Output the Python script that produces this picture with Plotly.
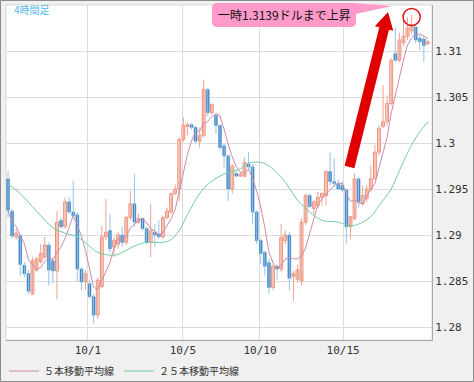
import plotly.graph_objects as go
import pandas as pd

# ---------------- data ----------------
opens = [1.2961, 1.2926, 1.2898, 1.2899, 1.2867, 1.2858, 1.2836, 1.2862, 1.2871, 1.2876,
         1.2889, 1.2872, 1.2861, 1.2916, 1.2909, 1.2936, 1.2925, 1.2922, 1.2863, 1.2849,
         1.2847, 1.2833, 1.2813, 1.2844, 1.2898, 1.2905, 1.2887, 1.2890, 1.2900, 1.2892,
         1.2919, 1.2934, 1.2914, 1.2918, 1.2907, 1.2892, 1.2903, 1.2901, 1.2898, 1.2919,
         1.2925, 1.2945, 1.2950, 1.3004, 1.3018, 1.3020, 1.3017, 1.3002, 1.3008, 1.3058,
         1.3033, 1.3030, 1.3019, 1.2997, 1.2986, 1.2950, 1.2967, 1.2964, 1.2964, 1.2977,
         1.2974, 1.2925, 1.2894, 1.2881, 1.2870, 1.2843, 1.2866, 1.2863, 1.2894, 1.2900,
         1.2855, 1.2852, 1.2850, 1.2914, 1.2943, 1.2929, 1.2932, 1.2941, 1.2943, 1.2969,
         1.2958, 1.2956, 1.2954, 1.2949, 1.2909, 1.2918, 1.2961, 1.2934, 1.2940, 1.2950,
         1.2961, 1.2990, 1.3018, 1.3023, 1.3043, 1.3097, 1.3090, 1.3109, 1.3116, 1.3122,
         1.3126, 1.3114, 1.3113, 1.3108]
highs = [1.2970, 1.2928, 1.2906, 1.2901, 1.2871, 1.2862, 1.2876, 1.2876, 1.2890, 1.2898,
         1.2892, 1.2876, 1.2926, 1.2919, 1.2941, 1.2941, 1.2959, 1.2925, 1.2865, 1.2862,
         1.2851, 1.2836, 1.2854, 1.2910, 1.2939, 1.2923, 1.2898, 1.2903, 1.2909, 1.2921,
         1.2948, 1.2966, 1.2923, 1.2919, 1.2909, 1.2934, 1.2912, 1.2916, 1.2921, 1.2930,
         1.2946, 1.2955, 1.3006, 1.3028, 1.3022, 1.3022, 1.3019, 1.3017, 1.3069, 1.3060,
         1.3043, 1.3032, 1.3020, 1.2999, 1.2988, 1.2977, 1.2970, 1.2968, 1.2984, 1.2990,
         1.2977, 1.2927, 1.2896, 1.2883, 1.2874, 1.2868, 1.2868, 1.2912, 1.2905, 1.2903,
         1.2861, 1.2868, 1.2918, 1.2945, 1.2945, 1.2938, 1.2947, 1.2947, 1.2970, 1.2990,
         1.2983, 1.2960, 1.2958, 1.2950, 1.2921, 1.2967, 1.2963, 1.2954, 1.2954, 1.2976,
         1.2998, 1.3019, 1.3063, 1.3052, 1.3092, 1.3125, 1.3120, 1.3136, 1.3137, 1.3139,
         1.3129, 1.3117, 1.3116, 1.3112]
lows = [1.2919, 1.2896, 1.2895, 1.2856, 1.2854, 1.2836, 1.2835, 1.2860, 1.2869, 1.2874,
        1.2845, 1.2847, 1.2830, 1.2907, 1.2907, 1.2923, 1.2919, 1.2849, 1.2840, 1.2840,
        1.2831, 1.2804, 1.2809, 1.2842, 1.2894, 1.2880, 1.2876, 1.2885, 1.2887, 1.2889,
        1.2916, 1.2909, 1.2912, 1.2905, 1.2890, 1.2876, 1.2887, 1.2896, 1.2896, 1.2917,
        1.2923, 1.2943, 1.2937, 1.3001, 1.3008, 1.3015, 1.3000, 1.2995, 1.3006, 1.3029,
        1.3031, 1.3010, 1.2992, 1.2973, 1.2937, 1.2945, 1.2963, 1.2963, 1.2963, 1.2970,
        1.2912, 1.2890, 1.2868, 1.2856, 1.2836, 1.2840, 1.2851, 1.2860, 1.2890, 1.2840,
        1.2828, 1.2848, 1.2845, 1.2911, 1.2929, 1.2923, 1.2929, 1.2932, 1.2932, 1.2954,
        1.2952, 1.2949, 1.2947, 1.2891, 1.2896, 1.2916, 1.2930, 1.2932, 1.2936, 1.2947,
        1.2960, 1.2987, 1.3016, 1.3019, 1.3041, 1.3088, 1.3088, 1.3105, 1.3112, 1.3118,
        1.3108, 1.3101, 1.3088, 1.3106]
closes = [1.2927, 1.2899, 1.2902, 1.2868, 1.2858, 1.2839, 1.2872, 1.2874, 1.2880, 1.2889,
          1.2862, 1.2861, 1.2914, 1.2909, 1.2936, 1.2925, 1.2921, 1.2863, 1.2849, 1.2858,
          1.2833, 1.2813, 1.2851, 1.2898, 1.2903, 1.2885, 1.2894, 1.2900, 1.2892, 1.2919,
          1.2934, 1.2914, 1.2918, 1.2907, 1.2892, 1.2905, 1.2900, 1.2898, 1.2919, 1.2926,
          1.2945, 1.2950, 1.3004, 1.3019, 1.3020, 1.3017, 1.3002, 1.3008, 1.3058, 1.3033,
          1.3042, 1.3019, 1.2995, 1.2986, 1.2950, 1.2975, 1.2964, 1.2966, 1.2979, 1.2974,
          1.2925, 1.2894, 1.2880, 1.2866, 1.2843, 1.2866, 1.2863, 1.2897, 1.2900, 1.2853,
          1.2858, 1.2862, 1.2914, 1.2943, 1.2931, 1.2936, 1.2941, 1.2945, 1.2969, 1.2958,
          1.2956, 1.2950, 1.2949, 1.2909, 1.2920, 1.2961, 1.2936, 1.2943, 1.2950, 1.2961,
          1.2990, 1.3016, 1.3023, 1.3043, 1.3090, 1.3090, 1.3112, 1.3116, 1.3125, 1.3128,
          1.3112, 1.3110, 1.3106, 1.3110]
idx = list(range(len(closes)))

# 25-period moving average at these candle indices
ma25_idx = [0, 3, 7, 11, 14, 17, 20, 22, 26, 28, 31, 34, 38, 40, 42, 44, 47, 49, 52, 54,
            57, 59, 62, 64, 67, 69, 71, 74, 77, 81, 84, 86, 89, 91, 94, 96, 99, 101, 103]
ma25_val = [1.2955, 1.2945, 1.2926, 1.2908, 1.2902, 1.2898, 1.2888, 1.2881, 1.2878, 1.2881,
            1.2888, 1.2892, 1.2892, 1.2895, 1.2905, 1.2922, 1.2945, 1.2955, 1.2964, 1.2968,
            1.2972, 1.2978, 1.2979, 1.2975, 1.2963, 1.2951, 1.2938, 1.2925, 1.2916, 1.2914,
            1.2910, 1.2912, 1.2920, 1.2932, 1.2950, 1.2970, 1.2998, 1.3012, 1.3023]

x_tick_pos = [19.6, 42.9, 61.8, 82.2]
x_tick_text = ["10/1", "10/5", "10/10", "10/15"]
y_tick_vals = [1.28, 1.285, 1.29, 1.295, 1.30, 1.305, 1.31]
y_tick_text = ["1.28", "1.285", "1.29", "1.295", "1.3", "1.305", "1.31"]

ma5_name = "５本移動平均線"
ma25_name = "２５本移動平均線"
note_text = "一時1.3139ドルまで上昇"
frame_label = "4時間足"

# ---------------- derived ----------------
ma5 = pd.Series(closes).rolling(5, min_periods=1).mean().tolist()
up = [c >= o for o, c in zip(opens, closes)]

UP_LINE = "#ec8f7a"
UP_FILL = "#fde6de"
UP_WICK = "#f0a392"
DN_FILL = "#3b82c4"
DN_WICK = "#96c2e8"


def wicks(mask):
    xs, ys = [], []
    for i in idx:
        if mask[i]:
            xs += [i, i, None]
            ys += [lows[i], highs[i], None]
    return xs, ys


fig = go.Figure()

for mask, col in ((up, UP_WICK), ([not u for u in up], DN_WICK)):
    wx, wy = wicks(mask)
    fig.add_trace(go.Scatter(x=wx, y=wy, mode="lines", line=dict(color=col, width=1),
                             showlegend=False, hoverinfo="skip"))

ux = [i for i in idx if up[i]]
fig.add_trace(go.Bar(x=ux, base=[opens[i] for i in ux],
                     y=[max(closes[i] - opens[i], 0.00003) for i in ux],
                     width=0.7, marker=dict(color=UP_FILL, line=dict(color=UP_LINE, width=1)),
                     showlegend=False))
dx = [i for i in idx if not up[i]]
fig.add_trace(go.Bar(x=dx, base=[closes[i] for i in dx],
                     y=[max(opens[i] - closes[i], 0.00003) for i in dx],
                     width=0.7, marker=dict(color=DN_FILL, line=dict(color=DN_FILL, width=0.5)),
                     showlegend=False))

fig.add_trace(go.Scatter(x=idx, y=ma5, mode="lines", name=ma5_name,
                         line=dict(color="#cf8aa8", width=1)))
fig.add_trace(go.Scatter(x=ma25_idx, y=ma25_val, mode="lines", name=ma25_name,
                         line=dict(color="#6fcf9f", width=1, shape="spline")))

# ---------------- layout ----------------
W, H = 474, 382
ML, MR, MT, MB = 6, 42, 5, 42
PW, PH = W - ML - MR, H - MT - MB


def px(x, y):
    return (x - ML) / PW, (H - MB - y) / PH


def path(points, close=True):
    s = ""
    for k, p in enumerate(points):
        if p[0] == "Q":
            (ax, ay), (bx, by) = px(*p[1]), px(*p[2])
            s += f" Q {ax:.5f},{ay:.5f} {bx:.5f},{by:.5f}"
        else:
            x, y = px(*p)
            s += (" M " if k == 0 else " L ") + f"{x:.5f},{y:.5f}"
    return s + (" Z" if close else "")


shapes = []
fx0, fy1 = px(0.5, 0.5)
fx1, fy0 = px(473.5, 381.5)
shapes.append(dict(type="rect", xref="paper", yref="paper", x0=fx0, x1=fx1, y0=fy0, y1=fy1,
                   line=dict(color="#8c8c8c", width=1), layer="below"))
shapes.append(dict(type="rect", xref="paper", yref="paper", x0=0, x1=1, y0=0, y1=1,
                   line=dict(color="#d9d9d9", width=1), layer="below"))

callout = [(217, 3), (354, 3), (392, 6), (356, 14), (356, 22), ("Q", (356, 27), (351, 27)),
           (217, 27), ("Q", (212, 27), (212, 22)), (212, 8), ("Q", (212, 3), (217, 3))]
shapes.append(dict(type="path", xref="paper", yref="paper", path=path(callout),
                   fillcolor="#ff9acb", line=dict(width=0)))

arrow = [(344.6, 165.8), (379.3, 27.3), (374.9, 26.2), (388.0, 12.0), (393.3, 30.8),
         (389.0, 29.7), (354.4, 168.2)]
shapes.append(dict(type="path", xref="paper", yref="paper", path=path(arrow),
                   fillcolor="#e00000", line=dict(width=0)))

imax = max(idx, key=lambda i: highs[i])
cy = highs[imax] - 0.0002
shapes.append(dict(type="circle", xref="x", yref="y", x0=imax - 2.1, x1=imax + 2.1,
                   y0=cy - 0.00093, y1=cy + 0.00093, line=dict(color="#dd1111", width=1.5)))

ax_font = dict(family="DejaVu Sans Mono", size=11, color="#333333")

fig.update_layout(
    width=W, height=H,
    margin=dict(l=ML, r=MR, t=MT, b=MB, autoexpand=False),
    paper_bgcolor="#f0f0f0", plot_bgcolor="#ffffff",
    barmode="overlay", bargap=0,
    shapes=shapes,
    showlegend=True,
    legend=dict(orientation="h", x=px(4, 0)[0], xanchor="left", y=px(0, 371)[1],
                yanchor="middle", bgcolor="rgba(0,0,0,0)",
                font=dict(family="Noto Sans CJK JP", size=10, color="#333333")),
    xaxis=dict(range=[-0.5, 104.0], tickvals=x_tick_pos, ticktext=x_tick_text,
               showgrid=True, gridcolor="#dcdcdc", gridwidth=1, zeroline=False,
               showline=True, linecolor="#a8a8a8", linewidth=1, ticks="",
               tickfont=ax_font, fixedrange=True, automargin=False),
    yaxis=dict(range=[1.27859, 1.3150], side="right", tickvals=y_tick_vals,
               ticktext=y_tick_text, showgrid=True, gridcolor="#dcdcdc", gridwidth=1,
               zeroline=False, showline=True, linecolor="#a8a8a8", linewidth=1, ticks="",
               tickfont=ax_font, fixedrange=True, automargin=False),
    annotations=[
        dict(xref="paper", yref="paper", x=px(12, 0)[0], y=px(0, 9)[1], text=frame_label,
             showarrow=False, xanchor="left", yanchor="middle",
             font=dict(family="Noto Sans CJK JP", size=10, color="#55b8ee")),
        dict(xref="paper", yref="paper", x=px(284, 0)[0], y=px(0, 15)[1], text=note_text,
             showarrow=False, xanchor="center", yanchor="middle",
             font=dict(family="Noto Sans CJK JP", size=12, color="#111111")),
    ],
)

fig.write_html("out.html", config={"displayModeBar": False, "staticPlot": True},
               post_script="document.body.style.margin='0';document.body.style.overflow='hidden';")
